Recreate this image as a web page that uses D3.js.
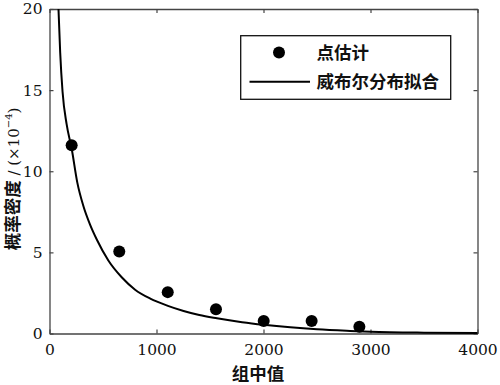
<!DOCTYPE html>
<html>
<head>
<meta charset="utf-8">
<script src="https://cdn.jsdelivr.net/npm/d3@7"></script>
<style>
body { margin: 0; background: #fff; }
.cjk { font-family: "Noto Sans CJK SC", sans-serif; font-weight: bold; fill: #111; }
.serif { font-family: "DejaVu Serif", serif; fill: #111; }
</style>
</head>
<body>
<div id="chart"></div>
<script>
var WIDTH = 500;
var HEIGHT = 385;

// group midpoints and point estimates (x10^-4)
var midpoints = [207, 652, 1105, 1556, 2002, 2450, 2896];
var estimates = [11.6, 5.06, 2.55, 1.5, 0.77, 0.77, 0.42];

// weibull fit curve
var fitX = [84, 100, 122, 160, 207, 260, 318, 380, 443, 550, 677, 800, 942, 1100, 1253, 1400, 1565, 1800, 2000, 2250, 2500, 2811, 3000, 3500, 4000];
var fitY = [20, 17.3, 14.9, 12.9, 11.4, 9.3, 7.83, 6.7, 5.78, 4.5, 3.45, 2.7, 2.15, 1.72, 1.39, 1.14, 0.94, 0.7, 0.54, 0.38, 0.26, 0.16, 0.11, 0.05, 0.03];

var xTicks = [0, 1000, 2000, 3000, 4000];
var yTicks = [0, 5, 10, 15, 20];

var legendLabels = ['点估计', '威布尔分布拟合'];

var margin = {left: 49.5, right: 22.5, top: 9, bottom: 51.5};
var w = WIDTH - margin.left - margin.right;
var h = HEIGHT - margin.top - margin.bottom;

var svg = d3.select('#chart').append('svg')
	.attr('width', WIDTH)
	.attr('height', HEIGHT);

var g = svg.append('g')
	.attr('transform', 'translate(' + margin.left + ',' + margin.top + ')');

var x = d3.scaleLinear().domain([0, 4000]).range([0, w]);
var y = d3.scaleLinear().domain([0, 20]).range([h, 0]);

// box with inward ticks on all sides
function styleAxis(sel) {
	sel.attr('font-family', null).attr('font-size', null);
	sel.select('.domain').attr('stroke', '#444').attr('stroke-width', 1.3);
	sel.selectAll('.tick line').attr('stroke', '#444').attr('stroke-width', 1.2);
	sel.selectAll('.tick text')
		.attr('class', 'serif')
		.style('font-size', '15.5px');
}

g.append('g')
	.attr('transform', 'translate(0,' + h + ')')
	.call(d3.axisBottom(x).tickValues(xTicks).tickFormat(d3.format('d')).tickSize(-4).tickPadding(10).tickSizeOuter(0))
	.call(styleAxis);

g.append('g')
	.call(d3.axisTop(x).tickValues(xTicks).tickSize(-4).tickFormat('').tickSizeOuter(0))
	.call(styleAxis);

g.append('g')
	.call(d3.axisLeft(y).tickValues(yTicks).tickSize(-4).tickPadding(7).tickSizeOuter(0))
	.call(styleAxis);

g.append('g')
	.attr('transform', 'translate(' + w + ',0)')
	.call(d3.axisRight(y).tickValues(yTicks).tickSize(-4).tickFormat('').tickSizeOuter(0))
	.call(styleAxis);

// fitted curve
var fit = fitX.map(function(d, i) { return [d, fitY[i]]; });
var line = d3.line()
	.x(function(d) { return x(d[0]); })
	.y(function(d) { return y(d[1]); })
	.curve(d3.curveMonotoneX);

g.append('path')
	.datum(fit)
	.attr('d', line)
	.attr('fill', 'none')
	.attr('stroke', '#000')
	.attr('stroke-width', 2);

// point estimates
g.selectAll('circle.pt')
	.data(midpoints)
	.enter().append('circle')
	.attr('class', 'pt')
	.attr('cx', function(d) { return x(d); })
	.attr('cy', function(d, i) { return y(estimates[i]); })
	.attr('r', 6)
	.attr('fill', '#000');

// legend
var lg = svg.append('g');
lg.append('rect')
	.attr('x', 240.7).attr('y', 35.7)
	.attr('width', 210).attr('height', 63.6)
	.attr('fill', '#fff')
	.attr('stroke', '#111')
	.attr('stroke-width', 1.3);
lg.append('circle')
	.attr('cx', 279).attr('cy', 52.5).attr('r', 6).attr('fill', '#000');
lg.append('line')
	.attr('x1', 249.5).attr('x2', 310)
	.attr('y1', 81.7).attr('y2', 81.7)
	.attr('stroke', '#000').attr('stroke-width', 2);
lg.selectAll('text')
	.data(legendLabels)
	.enter().append('text')
	.attr('class', 'cjk')
	.attr('x', 316.5)
	.attr('y', function(d, i) { return 52.5 + i * 29.2; })
	.attr('dy', '0.35em')
	.style('font-size', '17.5px')
	.text(function(d) { return d; });

// axis titles
svg.append('text')
	.attr('class', 'cjk')
	.attr('x', 258).attr('y', 380)
	.attr('text-anchor', 'middle')
	.style('font-size', '17.5px')
	.text('组中值');

var yt = svg.append('text')
	.attr('transform', 'translate(19,179) rotate(-90)')
	.attr('text-anchor', 'middle')
	.style('font-size', '17.5px');
yt.append('tspan')
	.attr('class', 'cjk')
	.text('概率密度');
yt.append('tspan')
	.attr('class', 'serif')
	.style('font-size', '15px')
	.text(' / (×10');
yt.append('tspan')
	.attr('class', 'serif')
	.style('font-size', '10px')
	.attr('dy', '-7')
	.text('−4');
yt.append('tspan')
	.attr('class', 'serif')
	.style('font-size', '15px')
	.attr('dy', '7')
	.text(')');
</script>
</body>
</html>
